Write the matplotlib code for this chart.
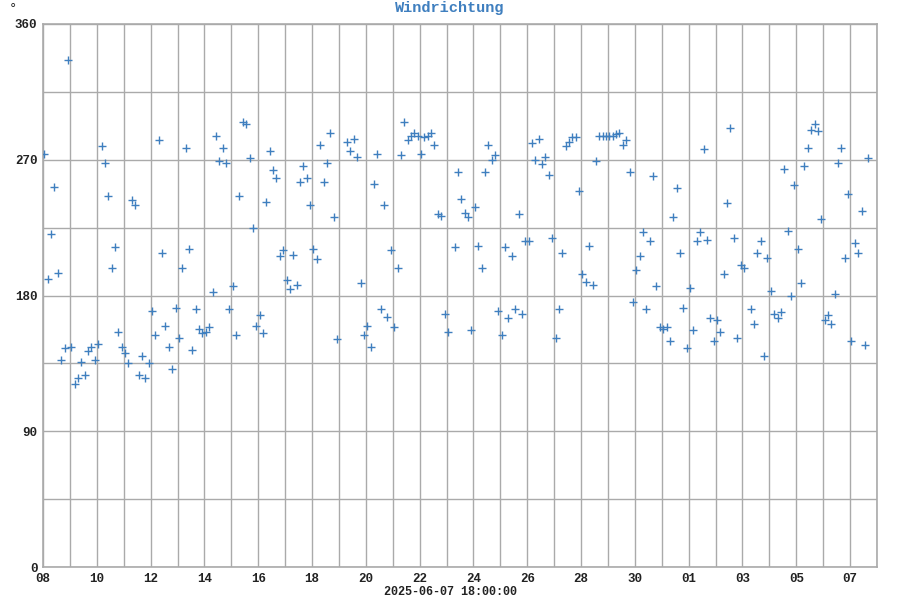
import numpy as np
import matplotlib
matplotlib.use("Agg")
import matplotlib.pyplot as plt

# wind direction [deg], one reading every 3 hours, nan = no reading
direction = [
    274, 191, 221, 252, 195, 137, 145, 336, 146, 121,
    125, 136, 127, 143, 146, 137, 148, 279, 268, 246,
    198, 212, 156, 146, 142, 135, 243, 240, 127, 140,
    125, 135, 170, 154, 283, 208, 160, 146, 131, 172,
    152, 198, 278, 211, 144, 171, 158, 155, 156, 159,
    182, 286, 269, 278, 268, 171, 186, 154, 246, 295,
    294, 271, 225, 160, 167, 155, 242, 276, 263, 258,
    206, 210, 190, 184, 207, 187, 255, 266, 258, 240,
    211, 204, 280, 255, 268, 288, 232, 151, np.nan, np.nan,
    282, 276, 284, 272, 188, 154, 160, 146, 254, 274,
    171, 240, 166, 210, 159, 198, 273, 295, 283, 286,
    288, 286, 274, 285, 286, 288, 280, 234, 233, 168,
    156, np.nan, 212, 262, 244, 235, 232, 157, 239, 213,
    198, 262, 280, 270, 273, 170, 154, 212, 165, 206,
    171, 234, 168, 216, 216, 281, 270, 284, 267, 272,
    260, 218, 152, 171, 208, 279, 282, 285, 285, 249,
    194, 189, 213, 187, 269, 286, 286, 286, 286, 286,
    287, 288, 280, 283, 262, 176, 197, 206, 222, 171,
    216, 259, 186, 159, 158, 159, 150, 232, 251, 208,
    172, 145, 185, 157, 216, 222, 277, 217, 165, 150,
    164, 156, 194, 241, 291, 218, 152, 200, 198, np.nan,
    171, 161, 208, 216, 140, 205, 183, 168, 165, 169,
    264, 223, 180, 253, 211, 188, 266, 278, 290, 294,
    289, 231, 164, 167, 161, 181, 268, 278, 205, 247,
    150, 215, 208, 236, 147, 271,
]
first_hour = 1.25   # first reading, hours after 2025-06-08 00:00
step_hours = 3
n_days = 31
day_labels = ["08", "10", "12", "14", "16", "18", "20", "22", "24", "26",
              "28", "30", "01", "03", "05", "07"]
y_labels = ["0", "90", "180", "270", "360"]
title = "Windrichtung"
x_title = "2025-06-07 18:00:00"

blue = "#3f7fbf"
grid = "#aaaaaa"
mono = ["Liberation Mono", "DejaVu Sans Mono"]

days = (first_hour + step_hours * np.arange(len(direction))) / 24.0

fig = plt.figure(figsize=(9, 6), dpi=100)
ax = fig.add_axes([43 / 900, 33 / 600, 834 / 900, 543 / 600])

ax.plot(days, direction, linestyle="none", marker="+", markersize=6,
        markeredgewidth=1.0, color=blue, zorder=3)

ax.set_xlim(0, n_days)
ax.set_ylim(0, 360)
ax.set_xticks(np.arange(0, n_days + 1, 1))
ax.set_xticklabels([day_labels[i // 2] if i % 2 == 0 and i // 2 < len(day_labels) else ""
                    for i in range(n_days + 1)])
ax.set_yticks(np.arange(0, 361, 45))
ax.set_yticklabels([y_labels[i // 2] if i % 2 == 0 else "" for i in range(9)])
ax.grid(True, color=grid, linewidth=1.0, zorder=0)
ax.set_axisbelow(True)
ax.tick_params(length=0, pad=4, labelsize=9)
for lab in ax.get_xticklabels() + ax.get_yticklabels():
    lab.set_fontfamily(mono)
    lab.set_fontweight("bold")
    lab.set_color("#222222")
for s in ax.spines.values():
    s.set_color(grid)
    s.set_linewidth(1.2)

fig.text(0.5, 1 - 8 / 600, title, ha="center", va="center", color=blue,
         fontsize=11, fontweight="bold", family=mono)
fig.text(13 / 900, 1 - 9 / 600, "°", ha="center", va="center", fontsize=9,
         color="#222222")
fig.text(0.5, 1 - 592 / 600, x_title, ha="center", va="center", fontsize=8.5,
         fontweight="bold", family=mono, color="#222222")

fig.savefig("out.png", dpi=100)
